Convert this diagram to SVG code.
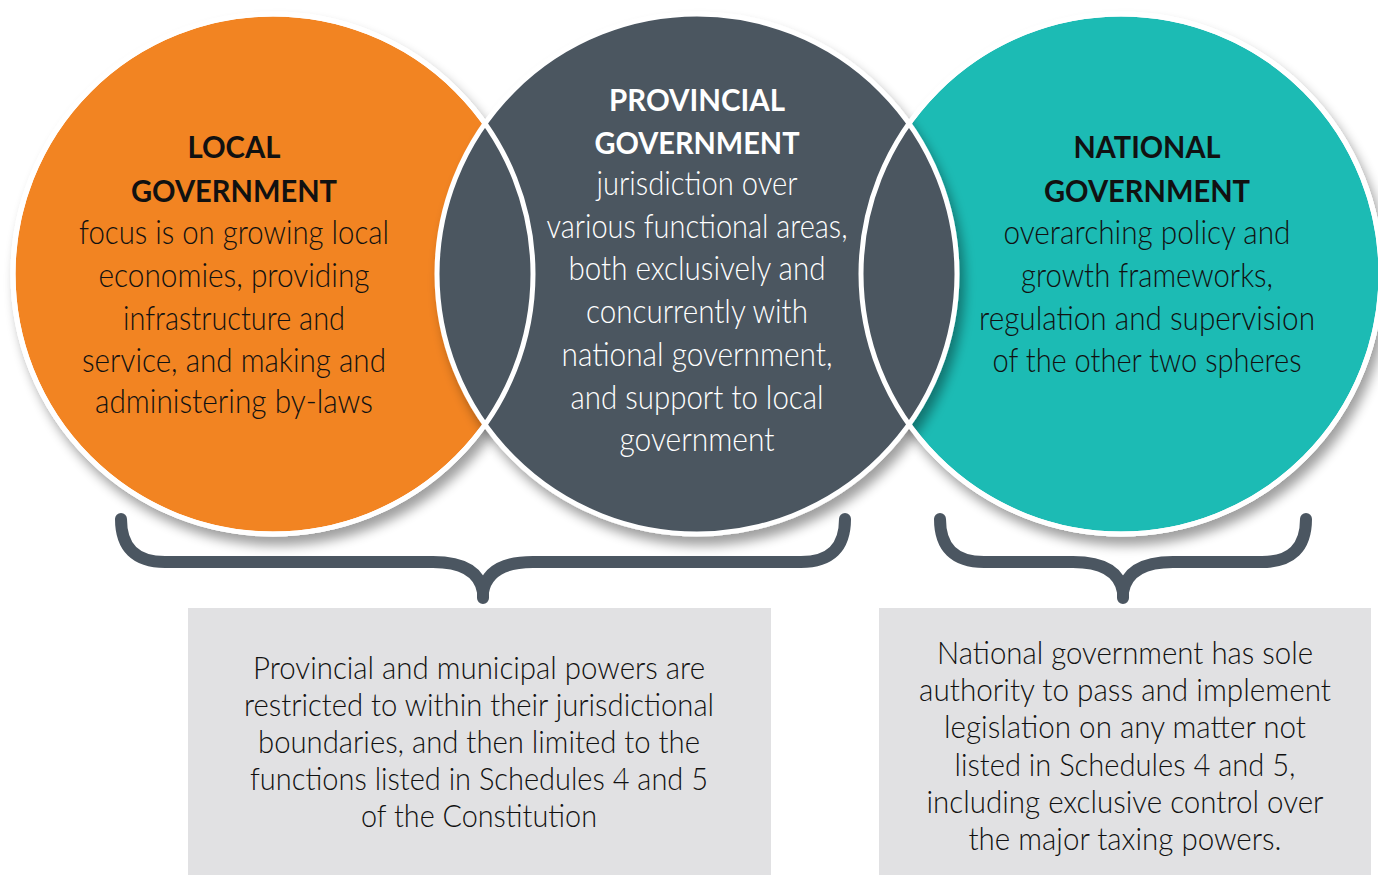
<svg xmlns="http://www.w3.org/2000/svg" width="1378" height="875" viewBox="0 0 1378 875">
<defs>
<filter id="sh" x="-20%" y="-20%" width="145%" height="150%">
<feGaussianBlur in="SourceAlpha" stdDeviation="6"/>
<feOffset dx="5" dy="9" result="o"/>
<feComponentTransfer><feFuncA type="linear" slope="0.38"/></feComponentTransfer>
<feMerge><feMergeNode/><feMergeNode in="SourceGraphic"/></feMerge>
</filter>
<style>
.ring{stroke:#ffffff;stroke-width:5}
.outline{fill:none;stroke:#ffffff;stroke-width:5}
.hd{font-family:Lato,"Liberation Sans",sans-serif;font-weight:700;font-size:30px;text-anchor:middle}
.bd{font-family:Lato,"Liberation Sans",sans-serif;font-weight:300;font-size:33px;text-anchor:middle}
.bx{font-family:Lato,"Liberation Sans",sans-serif;font-weight:300;font-size:31px;text-anchor:middle}
.dark{fill:#111111}
.light{fill:#ffffff}
.brace{fill:none;stroke:#4b5661;stroke-width:12;stroke-linecap:round;stroke-linejoin:round}
.box{fill:#e1e1e3}
</style>
</defs>
<rect width="1378" height="875" fill="#ffffff"/>

<g id="local">
<circle class="ring" cx="273" cy="274" r="260" fill="#f28423" filter="url(#sh)"/>
<text class="hd dark" x="234" y="158" textLength="93" lengthAdjust="spacingAndGlyphs">LOCAL</text>
<text class="hd dark" x="234" y="202" textLength="206" lengthAdjust="spacingAndGlyphs">GOVERNMENT</text>
<text class="bd dark" x="234" y="244" textLength="310" lengthAdjust="spacingAndGlyphs">focus is on growing local</text>
<text class="bd dark" x="234" y="287" textLength="271" lengthAdjust="spacingAndGlyphs">economies, providing</text>
<text class="bd dark" x="234" y="330" textLength="222" lengthAdjust="spacingAndGlyphs">infrastructure and</text>
<text class="bd dark" x="234" y="372" textLength="304" lengthAdjust="spacingAndGlyphs">service, and making and</text>
<text class="bd dark" x="234" y="413" textLength="278" lengthAdjust="spacingAndGlyphs">administering by-laws</text>
</g>

<g id="national">
<circle class="ring" cx="1121" cy="274" r="260" fill="#1ebbb4" filter="url(#sh)"/>
<text class="hd dark" x="1147" y="158" textLength="147" lengthAdjust="spacingAndGlyphs">NATIONAL</text>
<text class="hd dark" x="1147" y="202" textLength="206" lengthAdjust="spacingAndGlyphs">GOVERNMENT</text>
<text class="bd dark" x="1147" y="244" textLength="287" lengthAdjust="spacingAndGlyphs">overarching policy and</text>
<text class="bd dark" x="1147" y="287" textLength="252" lengthAdjust="spacingAndGlyphs">growth frameworks,</text>
<text class="bd dark" x="1147" y="330" textLength="336" lengthAdjust="spacingAndGlyphs">regulation and supervision</text>
<text class="bd dark" x="1147" y="372" textLength="309" lengthAdjust="spacingAndGlyphs">of the other two spheres</text>
</g>

<g id="provincial">
<circle class="ring" cx="697" cy="274" r="260" fill="#4b5661" filter="url(#sh)"/>
<text class="hd light" x="697" y="111" textLength="176" lengthAdjust="spacingAndGlyphs">PROVINCIAL</text>
<text class="hd light" x="697" y="154" textLength="205" lengthAdjust="spacingAndGlyphs">GOVERNMENT</text>
<text class="bd light" x="697" y="195" textLength="201" lengthAdjust="spacingAndGlyphs">jurisdiction over</text>
<text class="bd light" x="697" y="238" textLength="301" lengthAdjust="spacingAndGlyphs">various functional areas,</text>
<text class="bd light" x="697" y="280" textLength="257" lengthAdjust="spacingAndGlyphs">both exclusively and</text>
<text class="bd light" x="697" y="323" textLength="222" lengthAdjust="spacingAndGlyphs">concurrently with</text>
<text class="bd light" x="697" y="366" textLength="271" lengthAdjust="spacingAndGlyphs">national government,</text>
<text class="bd light" x="697" y="409" textLength="253" lengthAdjust="spacingAndGlyphs">and support to local</text>
<text class="bd light" x="697" y="451" textLength="155" lengthAdjust="spacingAndGlyphs">government</text>
</g>

<g id="outlines">
<circle class="outline" cx="273" cy="274" r="260"/>
<circle class="outline" cx="1121" cy="274" r="260"/>
</g>

<g id="connectors">
<path class="brace" d="M121,519 Q121,562 165,562 L433,562 Q478,562 483,592 L483,598 M845,519 Q845,562 801,562 L533,562 Q488,562 483,592"/>
<path class="brace" d="M940,519 Q940,562 984,562 L1073,562 Q1118,562 1123,592 L1123,598 M1306,519 Q1306,562 1262,562 L1173,562 Q1128,562 1123,592"/>
</g>

<g id="box-left">
<rect class="box" x="188" y="608" width="583" height="267"/>
<text class="bx dark" x="479" y="679" textLength="452" lengthAdjust="spacingAndGlyphs">Provincial and municipal powers are</text>
<text class="bx dark" x="479" y="716" textLength="470" lengthAdjust="spacingAndGlyphs">restricted to within their jurisdictional</text>
<text class="bx dark" x="479" y="753" textLength="442" lengthAdjust="spacingAndGlyphs">boundaries, and then limited to the</text>
<text class="bx dark" x="479" y="790" textLength="458" lengthAdjust="spacingAndGlyphs">functions listed in Schedules 4 and 5</text>
<text class="bx dark" x="479" y="827" textLength="236" lengthAdjust="spacingAndGlyphs">of the Constitution</text>
</g>

<g id="box-right">
<rect class="box" x="879" y="608" width="492" height="267"/>
<text class="bx dark" x="1125" y="664" textLength="376" lengthAdjust="spacingAndGlyphs">National government has sole</text>
<text class="bx dark" x="1125" y="701" textLength="412" lengthAdjust="spacingAndGlyphs">authority to pass and implement</text>
<text class="bx dark" x="1125" y="738" textLength="362" lengthAdjust="spacingAndGlyphs">legislation on any matter not</text>
<text class="bx dark" x="1125" y="776" textLength="341" lengthAdjust="spacingAndGlyphs">listed in Schedules 4 and 5,</text>
<text class="bx dark" x="1125" y="813" textLength="397" lengthAdjust="spacingAndGlyphs">including exclusive control over</text>
<text class="bx dark" x="1125" y="850" textLength="313" lengthAdjust="spacingAndGlyphs">the major taxing powers.</text>
</g>
</svg>
